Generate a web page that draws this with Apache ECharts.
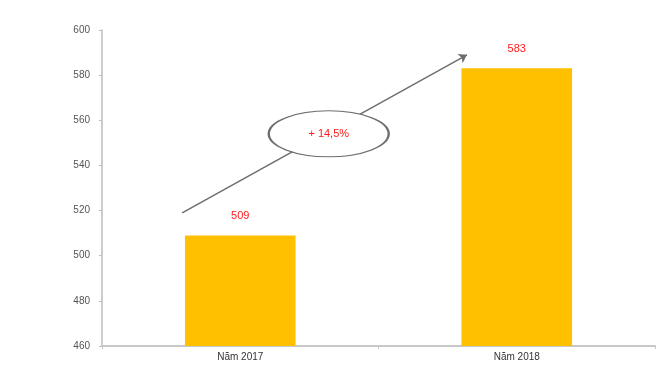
<!DOCTYPE html>
<html>
<head>
<meta charset="utf-8">
<script src="https://cdn.jsdelivr.net/npm/echarts@6/dist/echarts.min.js"></script>
<style>
  html, body { margin: 0; padding: 0; background: #fff; }
  #chart { width: 670px; height: 370px; }
</style>
</head>
<body>
<div id="chart"></div>
<script>
// Categories and values
const categories = ['Năm 2017', 'Năm 2018'];
const values = [509, 583];

// Value axis range and tick step
const yMin = 460;
const yMax = 600;
const yStep = 20;

// Growth arrow (positions on a helper value x-axis spanning -0.5..1.5, y in data units)
const arrowStart = [-0.21, 519];
const arrowEnd = [0.82, 589];
const growthBadge = [0.32, 554];
const growthText = '+ 14,5%';

const chart = echarts.init(document.getElementById('chart'));

chart.setOption({
  animation: false,
  backgroundColor: '#ffffff',
  grid: { left: 102, right: 15, top: 30, bottom: 24 },
  xAxis: [
    {
      type: 'category',
      data: categories,
      axisLine: { onZero: false, lineStyle: { color: '#c8c8c8', width: 2 } },
      axisTick: { show: true, length: 3, lineStyle: { color: '#c8c8c8' } },
      axisLabel: { color: '#333', fontSize: 10, fontFamily: 'Arial, Liberation Sans', margin: 6 }
    },
    {
      type: 'value', min: -0.5, max: 1.5, show: false
    }
  ],
  yAxis: {
    type: 'value',
    min: yMin,
    max: yMax,
    interval: yStep,
    axisLine: { show: true, onZero: false, lineStyle: { color: '#bdbdbd', width: 1.5 } },
    axisTick: { show: true, length: 3, lineStyle: { color: '#bdbdbd' } },
    splitLine: { show: false },
    axisLabel: { color: '#555', fontSize: 10, fontFamily: 'Arial, Liberation Sans', margin: 12 }
  },
  series: [
    {
      type: 'bar',
      data: values,
      barWidth: '40%',
      itemStyle: { color: '#FFC000' },
      label: {
        show: true,
        position: 'top',
        distance: 14,
        color: '#ff1a1a',
        fontSize: 11,
        fontFamily: 'Arial, Liberation Sans'
      },
      z: 2
    },
    {
      type: 'line',
      xAxisIndex: 1,
      data: [],
      markLine: {
        silent: true,
        z: 3,
        symbol: ['none', 'arrow'],
        symbolSize: 8,
        label: { show: false },
        lineStyle: { color: '#6e6e6e', width: 1.5, type: 'solid' },
        data: [[{ coord: arrowStart }, { coord: arrowEnd }]]
      },
      z: 3
    },
    {
      type: 'scatter',
      xAxisIndex: 1,
      data: [growthBadge],
      symbol: 'circle',
      symbolSize: [120, 46],
      itemStyle: { color: '#ffffff', borderColor: '#6e6e6e', borderWidth: 1.5, opacity: 1 },
      label: {
        show: true,
        position: 'inside',
        formatter: growthText,
        color: '#ff1a1a',
        fontSize: 11,
        fontFamily: 'Arial, Liberation Sans'
      },
      z: 10
    }
  ]
});
</script>
</body>
</html>
